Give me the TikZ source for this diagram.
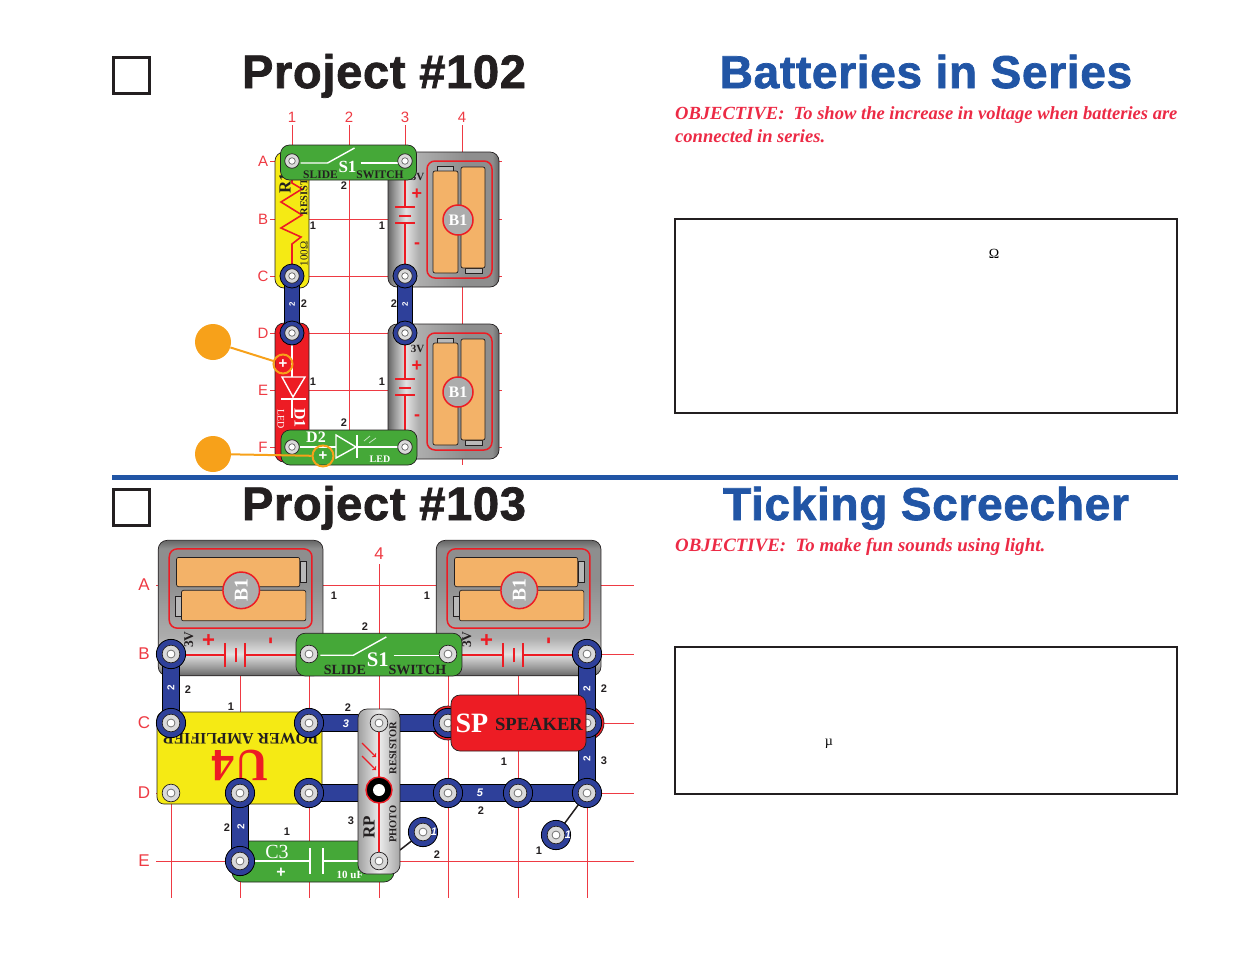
\documentclass[tikz,border=0pt]{standalone}
\usepackage{fontspec}
\setmainfont{Liberation Serif}
\setsansfont{Liberation Sans}
\newfontfamily\headfont[FakeBold=1.6,LetterSpace=1.5]{Liberation Sans Bold}
\definecolor{gridred}{HTML}{EE3A43}
\definecolor{partgreen}{HTML}{45A838}
\definecolor{partyellow}{HTML}{F5EA14}
\definecolor{partred}{HTML}{ED1C24}
\definecolor{snapblue}{HTML}{2E409A}
\definecolor{titleblue}{HTML}{2155A5}
\definecolor{cellorange}{HTML}{F3B268}
\definecolor{noteorange}{HTML}{F7A11A}
\definecolor{objred}{HTML}{EC2A45}
\definecolor{inkblack}{HTML}{231F20}
\definecolor{steela}{HTML}{666666}
\definecolor{steelb}{HTML}{999999}
\definecolor{steelc}{HTML}{E2E2E2}
\definecolor{steeld}{HTML}{ADADAD}
\definecolor{steele}{HTML}{8E8E8E}
\pgfdeclarehorizontalshading{holdersteel}{100bp}{color(0bp)=(steela); color(25bp)=(steela); color(28bp)=(steelb); color(33bp)=(steelc); color(39bp)=(steeld); color(60bp)=(steele); color(72bp)=(steele); color(75bp)=(steela); color(100bp)=(steela)}
\newcommand{\fsz}[1]{\fontsize{#1}{#1}\selectfont}
\newcommand{\pscale}{1}
\tikzset{
  gridline/.style={gridred,line width=0.8pt},
  gridlabel/.style={gridred,font=\sffamily\fsz{15}},
  stepnum/.style={inkblack,font=\sffamily\bfseries\fsz{11}},
  wire/.style={draw=black,line width=0.9pt,double=snapblue,double distance=\pscale*13.5pt},
  bluering/.style={circle,inner sep=0pt,draw=black,fill=snapblue,line width=0.8pt,minimum size=\pscale*24pt},
  eyeouter/.style={circle,inner sep=0pt,draw=inkblack,fill=gray!30,line width=0.7pt,minimum size=\pscale*14.5pt},
  eyeinner/.style={circle,inner sep=0pt,draw=gray!80!black,fill=white,line width=0.7pt,minimum size=\pscale*6.5pt},
  partbody/.style={draw=inkblack,line width=0.7pt,rounded corners=7pt},
  partline/.style={white,line width=1.4pt},
  redline/.style={partred,line width=1.8pt},
  seriftag/.style={font=\bfseries\fsz{11.5},inkblack,inner sep=0pt},
  heading/.style={font=\headfont\fsz{47},inner sep=0pt,anchor=base},
  objective/.style={objred,font=\bfseries\itshape\fsz{18.55},inner sep=0pt,anchor=base west},
  notebox/.style={draw=inkblack,line width=1.5pt,anchor=north west,inner sep=0pt},
  checkbox/.style={draw=inkblack,line width=2.2pt,inner sep=0pt,minimum size=36pt},
  notedot/.style={circle,fill=noteorange,inner sep=0pt,minimum size=36pt},
  notering/.style={circle,draw=noteorange,line width=2pt,inner sep=0pt,minimum size=19pt,text=white,font=\sffamily\bfseries\fsz{15}},
  noteline/.style={noteorange,line width=2pt},
  pics/bholder/.style={code={
    \path[partbody,rounded corners=9pt,draw=inkblack,shading=holdersteel,shading angle=#1] (-17,-67) rectangle (94,68);
    \draw[partred,line width=1.5pt,rounded corners=8pt] (22,-58) rectangle (87,59);
    \draw[partbody,fill=gray!55,rounded corners=0pt,line width=0.5pt] (32,-53) rectangle (48,-47);
    \draw[partbody,fill=gray!55,rounded corners=0pt,line width=0.5pt] (60,49) rectangle (77,54);
    \draw[partbody,fill=cellorange,rounded corners=2pt] (28,-48) rectangle (53,54);
    \draw[partbody,fill=cellorange,rounded corners=2pt] (56,-52) rectangle (80,49);
    \node[circle,draw=partred,fill=gray!65,line width=1.5pt,text=white,font=\bfseries\fsz{16},inner sep=0pt,minimum size=30pt] (token) at (53,1) {B1};
    \draw[redline] (0,-58) -- (0,-12);
    \draw[redline] (0,4) -- (0,58);
    \draw[redline] (-10,-12) -- (10,-12);
    \draw[redline] (-6,-3) -- (6,-3);
    \draw[redline] (-10,4) -- (10,4);
    \node[partred,font=\sffamily\bfseries\fsz{18},inner sep=0pt] (plus) at (12,-25) {+};
    \node[partred,font=\sffamily\bfseries\fsz{18},inner sep=0pt] (minus) at (12,27) {-};
    \node[seriftag,font=\bfseries\fsz{11}] (volt) at (12.5,-42) {3V};
  }},
  pics/slideswitch/.style={code={
    \draw[partbody,fill=partgreen,rounded corners=9pt] (-68,-17) rectangle (68,18);
    \draw[partline] (-48,1) -- (-21,1) -- (6,-14);
    \draw[partline] (12,1) -- (49,1);
    \node[white,font=\bfseries\fsz{17},inner sep=0pt] (tag) at (-1,5) {S1};
    \node[seriftag] (slide) at (-28,13) {SLIDE};
    \node[seriftag] (switch) at (31.5,13) {SWITCH};
  }}
}
\newcommand{\plainsnap}[2]{
  \node[eyeouter] (#1) at (#2) {};
  \node[eyeinner] (#1-i) at (#1) {};
}
\newcommand{\bluesnap}[2]{
  \node[bluering] (#1-r) at (#2) {};
  \plainsnap{#1}{#2}
}
\begin{document}
\begin{tikzpicture}[x=1pt,y=-1pt]
\useasboundingbox (0,0) rectangle (1235,954);

\node[checkbox] (check102) at (131.5,75.5) {};
\node[checkbox] (check103) at (131.5,507.5) {};
\node[heading,inkblack] (head102) at (384,88) {Project \#102};
\node[heading,inkblack] (head103) at (384,520) {Project \#103};
\node[heading,titleblue,font=\headfont\fsz{46}] (title102) at (926,88) {Batteries in Series};
\node[heading,titleblue,font=\headfont\fsz{46}] (title103) at (926,520) {Ticking Screecher};
\fill[titleblue] (112,475) rectangle (1178,480);

\node[objective] (obj102a) at (675,119) {OBJECTIVE:\ \ To show the increase in voltage when batteries are};
\node[objective] (obj102b) at (675,142) {connected in series.};
\node[objective,font=\bfseries\itshape\fsz{18.85}] (obj103) at (675,551) {OBJECTIVE:\ \ To make fun sounds using light.};
\node[notebox,minimum width=502pt,minimum height=194pt] (box102) at (674,218) {};
\node[notebox,minimum width=502pt,minimum height=147pt] (box103) at (674,646) {};
\node[font=\fsz{14},inner sep=0pt] (ohm) at (994,254) {Ω};
\node[font=\fsz{14},inner sep=0pt] (micro) at (829,744) {µ};

\foreach \c/\x in {1/292,2/349,3/405,4/462}{
  \draw[gridline] (\x,125) -- (\x,465);
  \node[gridlabel] (top\c) at (\x,117) {\c};
  \foreach \r/\y in {A/161,B/219,C/276,D/333,E/390,F/447}
    \coordinate (p\c\r) at (\x,\y);
}
\foreach \r/\y in {A/161,B/219,C/276,D/333,E/390,F/447}{
  \draw[gridline] (270,\y) -- (502,\y);
  \node[gridlabel] (side\r) at (263,\y) {\r};
}

\pic (holdera) at (405,219) {bholder=0};
\pic (holderb) at (405,391) {bholder=0};

\draw[partbody,fill=partyellow,rounded corners=9pt] (275,152) rectangle (309,288);
\draw[partred,line width=1.6pt] (292,165) -- (292,183) -- (302,189) -- (281,202) -- (302,215) -- (281,228) -- (301,237) -- (292,244) -- (292,265);
\node[inkblack,rotate=90,font=\bfseries\fsz{17},inner sep=0pt] (r1tag) at (285,183) {R1};
\node[seriftag,rotate=90,font=\bfseries\fsz{10.4}] (r1kind) at (304,197) {RESIST};
\node[seriftag,rotate=90,font=\fsz{11}] (r1val) at (304,254) {100Ω};

\draw[partbody,fill=partred,rounded corners=9pt] (275,323) rectangle (309,462);
\draw[partline] (292,345) -- (292,377);
\draw[partline] (282,377) -- (305,377) -- (293,397) -- cycle;
\draw[partline] (281,399) -- (306,399);
\draw[partline] (292,399) -- (292,418);
\node[white,rotate=-90,font=\fsz{10},inner sep=0pt] (d1kind) at (281,419) {LED};
\node[white,rotate=-90,font=\bfseries\fsz{16},inner sep=0pt] (d1tag) at (300,418) {D1};

\pic (switcha) at (348.5,162) {slideswitch};

\draw[partbody,fill=partgreen,rounded corners=9pt] (281,430) rectangle (417,465);
\draw[partline] (300,447) -- (336,447);
\draw[partline] (336,435) -- (336,458) -- (356,447) -- cycle;
\draw[partline] (357,435) -- (357,458);
\draw[partline] (357,447) -- (398,447);
\draw[white!70!partgreen,line width=0.8pt] (364,441) -- (370,436) (369,443) -- (376,438);
\node[white,font=\bfseries\fsz{16},inner sep=0pt] (d2tag) at (316,437) {D2};
\node[white,font=\bfseries\fsz{10},inner sep=0pt] (d2kind) at (380,459) {LED};

\draw[wire] (p1C) -- (p1D);
\draw[wire] (p3C) -- (p3D);
\bluesnap{s1c}{p1C}
\bluesnap{s1d}{p1D}
\bluesnap{s3c}{p3C}
\bluesnap{s3d}{p3D}
\plainsnap{s1a}{p1A}
\plainsnap{s3a}{p3A}
\plainsnap{s1f}{p1F}
\plainsnap{s3f}{p3F}
\node[white,rotate=90,font=\sffamily\bfseries\fsz{8},inner sep=0pt] (w1) at (292,304) {2};
\node[white,rotate=90,font=\sffamily\bfseries\fsz{8},inner sep=0pt] (w2) at (405,304) {2};

\foreach \n/\x/\y/\t in {a/344/186/2,b/344/423/2,c/313/226/1,d/382/226/1,e/313/382/1,f/382/382/1,g/304/304/2,h/394/304/2}
  \node[stepnum] (num\n) at (\x,\y) {\t};

\node[notering] (ring1) at (283,364) {+};
\node[notering,minimum size=21pt] (ring2) at (323,456) {+};
\node[notedot] (note1) at (213,342) {};
\node[notedot] (note2) at (213,454) {};
\draw[noteline] (note1) -- (ring1);
\draw[noteline] (note2) -- (ring2);

\renewcommand{\pscale}{1.22}
\foreach \c/\x in {1/171,2/240,3/309,4/379,5/448,6/518,7/587}{
  \foreach \r/\y in {A/585,B/654,C/723,D/793,E/861}
    \coordinate (q\c\r) at (\x,\y);
}
\foreach \x in {171,240,309,448,518,587}
  \draw[gridline] (\x,541) -- (\x,898);
\draw[gridline] (379,564) -- (379,898);
\node[gridlabel,font=\sffamily\fsz{17}] (top4b) at (379,554) {4};
\foreach \r/\y in {A/585,B/654,C/723,D/793,E/861}{
  \draw[gridline] (156,\y) -- (634,\y);
  \node[gridlabel,font=\sffamily\fsz{17}] (side\r b) at (144,\y) {\r};
}

\pic[rotate=90,scale=1.22,transform shape] (holderc) at (240,655) {bholder=90};
\pic[rotate=90,scale=1.22,transform shape] (holderd) at (518,655) {bholder=90};
\pic[scale=1.22,transform shape] (switchb) at (379,654) {slideswitch};

\draw[partbody,fill=partyellow] (157,712) rectangle (322,804);
\node[seriftag,rotate=180,font=\bfseries\fsz{16}] (u4kind) at (240,739) {POWER AMPLIFIER};
\node[partred,rotate=180,font=\bfseries\fsz{46},inner sep=0pt] (u4tag) at (240,765) {U4};

\draw[partbody,fill=partgreen,rounded corners=10pt] (232,841) rectangle (394,882);
\draw[partline] (q2E) -- (310,861);
\draw[partline] (310,848) -- (310,874);
\draw[partline] (323,848) -- (323,874);
\draw[partline] (323,861) -- (q4E);
\node[white,font=\fsz{20},inner sep=0pt] (c3tag) at (277,852) {C3};
\node[white,font=\sffamily\bfseries\fsz{16},inner sep=0pt] (c3plus) at (281,873) {+};
\node[white,font=\bfseries\fsz{11},inner sep=0pt] (c3val) at (350,875) {10 uF};

\fill[partred,draw=inkblack,line width=0.7pt] (q5C) circle (17);
\fill[partred,draw=inkblack,line width=0.7pt] (q7C) circle (17);
\draw[wire] (q1B) -- (q1C);
\draw[wire] (q3C) -- (q5C);
\draw[wire] (q3D) -- (q7D);
\draw[wire] (q2D) -- (q2E);
\draw[wire] (q7B) -- (q7D);
\bluesnap{t1b}{q1B}
\bluesnap{t1c}{q1C}
\bluesnap{t3c}{q3C}
\bluesnap{t3d}{q3D}
\bluesnap{t2d}{q2D}
\bluesnap{t2e}{q2E}
\bluesnap{t5c}{q5C}
\bluesnap{t7c}{q7C}
\bluesnap{t5d}{q5D}
\bluesnap{t6d}{q6D}
\bluesnap{t7b}{q7B}
\plainsnap{t3b}{q3B}
\plainsnap{t5b}{q5B}
\plainsnap{t1d}{q1D}

\draw[partbody,fill=partred,rounded corners=9pt] (451,695) rectangle (586,751);
\node[white,font=\bfseries\fsz{28},inner sep=0pt] (sptag) at (472,723) {SP};
\node[seriftag,font=\bfseries\fsz{18.6}] (spkind) at (539,724) {SPEAKER};

\coordinate (rpjoin) at (400,850);
\coordinate (dropa) at (423,832);
\coordinate (dropb) at (556,835);
\draw[inkblack,line width=1.5pt] (rpjoin) -- (dropa);
\draw[inkblack,line width=1.5pt] (q7D) -- (dropb);
\bluesnap{t8}{dropa}
\bluesnap{t9}{dropb}
\bluesnap{t7d}{q7D}
\node[white,font=\sffamily\bfseries\itshape\fsz{11},inner sep=0pt] (w9) at (434,832) {1};
\node[white,font=\sffamily\bfseries\itshape\fsz{11},inner sep=0pt] (w10) at (568,835) {1};

\path[partbody,rounded corners=9pt,draw=inkblack,left color=gray!75,right color=gray!70,middle color=gray!15] (358,709) rectangle (400,874);
\draw[partred,line width=1.3pt] (q4C) -- (q4E);
\draw[partred,line width=1.1pt,-to] (362,743) -- (376,757);
\draw[partred,line width=1.1pt,-to] (362,756) -- (376,770);
\node[circle,draw=partred,fill=black,line width=1.4pt,inner sep=0pt,minimum size=26pt] (rpeye) at (379,790) {};
\node[circle,fill=white,inner sep=0pt,minimum size=12pt] (rphole) at (rpeye) {};
\plainsnap{t4c}{q4C}
\plainsnap{t4e}{q4E}
\node[seriftag,rotate=90,font=\bfseries\fsz{10.5}] (rpkinda) at (393,748) {RESISTOR};
\node[seriftag,rotate=90,font=\bfseries\fsz{10.5}] (rpkindb) at (393,824) {PHOTO};
\node[seriftag,rotate=90,font=\bfseries\fsz{17}] (rptag) at (369,827) {RP};

\node[white,rotate=90,font=\sffamily\bfseries\fsz{10},inner sep=0pt] (w1b) at (171,688) {2};
\node[white,font=\sffamily\bfseries\itshape\fsz{11},inner sep=0pt] (w2b) at (346,724) {3};
\node[white,font=\sffamily\bfseries\itshape\fsz{11},inner sep=0pt] (w3b) at (480,793) {5};
\node[white,rotate=90,font=\sffamily\bfseries\fsz{10},inner sep=0pt] (w4b) at (241,827) {2};
\node[white,rotate=90,font=\sffamily\bfseries\fsz{10},inner sep=0pt] (w5b) at (587,689) {2};
\node[white,rotate=90,font=\sffamily\bfseries\fsz{10},inner sep=0pt] (w6b) at (587,759) {2};

\foreach \n/\x/\y/\t in {a/334/596/1,b/427/596/1,c/365/627/2,d/188/690/2,e/231/707/1,f/348/708/2,g/604/689/2,h/604/761/3,i/504/762/1,j/481/811/2,k/351/821/3,l/287/832/1,m/227/828/2,n/437/855/2,o/539/851/1}
  \node[stepnum] (numb\n) at (\x,\y) {\t};
\end{tikzpicture}
\end{document}
